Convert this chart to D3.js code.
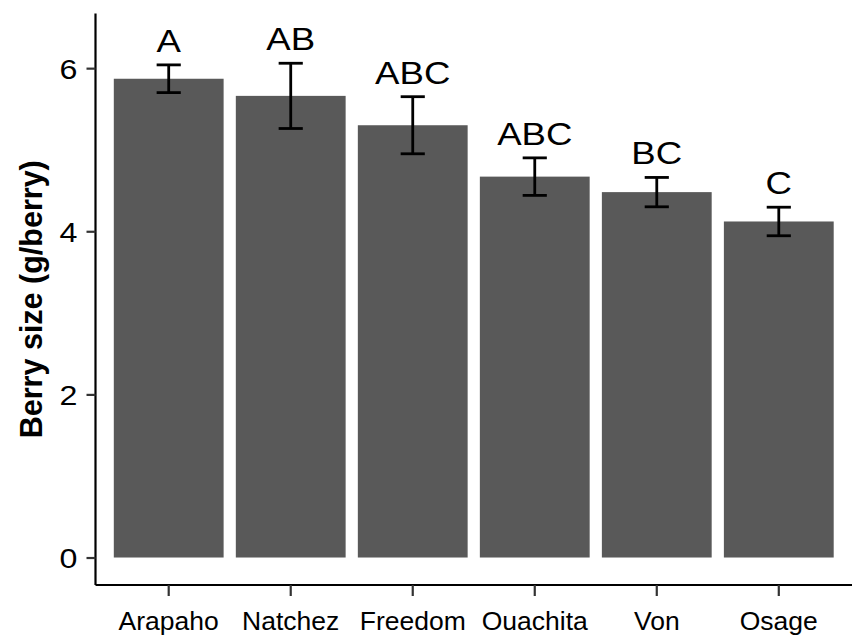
<!DOCTYPE html>
<html>
<head>
<meta charset="utf-8">
<script src="https://cdn.jsdelivr.net/npm/d3@7"></script>
<style>
  body { margin: 0; background: #fff; }
  text { font-family: "Liberation Sans", Arial, sans-serif; }
</style>
</head>
<body>
<div id="chart"></div>
<script>
// cultivar means with standard errors and Tukey letters
const cultivars = ["Arapaho", "Natchez", "Freedom", "Ouachita", "Von", "Osage"];
const berrySize = [5.87, 5.66, 5.30, 4.67, 4.48, 4.12];
const stdErr = [0.17, 0.40, 0.35, 0.23, 0.18, 0.175];
const letters = ["A", "AB", "ABC", "ABC", "BC", "C"];
const yTicks = [0, 2, 4, 6];

const width = 854, height = 636;
const svg = d3.select("#chart").append("svg")
  .attr("width", width)
  .attr("height", height);

// panel edges
const panel = { left: 95.5, right: 852, top: 13.5, bottom: 585 };

const x = d3.scaleBand()
  .domain(cultivars)
  .range([panel.left, panel.right])
  .paddingInner(0.1)
  .paddingOuter(0.15);

const y = d3.scaleLinear()
  .domain([-0.337, 6.67])
  .range([panel.bottom, panel.top]);

const data = cultivars.map((c, i) => ({
  name: c, mean: berrySize[i], se: stdErr[i], letter: letters[i]
}));

// bars
svg.append("g").selectAll("rect")
  .data(data)
  .enter().append("rect")
  .attr("x", d => x(d.name))
  .attr("width", x.bandwidth())
  .attr("y", d => y(d.mean))
  .attr("height", d => y(0) - y(d.mean))
  .attr("fill", "#595959");

// error bars
const capHalf = x.bandwidth() * 0.11;
const eb = svg.append("g")
  .attr("stroke", "#000")
  .attr("stroke-width", 2.8)
  .attr("fill", "none");
data.forEach(d => {
  const cx = x(d.name) + x.bandwidth() / 2;
  const hi = y(d.mean + d.se), lo = y(d.mean - d.se);
  eb.append("line").attr("x1", cx).attr("x2", cx).attr("y1", hi).attr("y2", lo);
  eb.append("line").attr("x1", cx - capHalf).attr("x2", cx + capHalf).attr("y1", hi).attr("y2", hi);
  eb.append("line").attr("x1", cx - capHalf).attr("x2", cx + capHalf).attr("y1", lo).attr("y2", lo);
});

// significance letters (the source glyphs are a bit wide, so stretch them)
svg.append("g").selectAll("text")
  .data(data)
  .enter().append("text")
  .attr("transform", d => `translate(${x(d.name) + x.bandwidth() / 2},${y(d.mean + d.se) - 13}) scale(1.2,1)`)
  .attr("text-anchor", "middle")
  .attr("font-size", 30.5)
  .attr("fill", "#000")
  .text(d => d.letter);

// y axis
const yAxis = svg.append("g")
  .attr("transform", `translate(${panel.left},0)`)
  .call(d3.axisLeft(y).tickValues(yTicks).tickSize(9).tickPadding(8).tickFormat(d3.format("d")));
yAxis.select(".domain").attr("d", `M0,${panel.top}V${panel.bottom}`).attr("stroke", "#000").attr("stroke-width", 2.2);
yAxis.selectAll(".tick line").attr("stroke", "#333").attr("stroke-width", 2.2);
yAxis.selectAll(".tick text")
  .attr("font-size", 28).attr("fill", "#000").attr("dy", "0.36em")
  .attr("x", -18 / 1.15)
  .attr("transform", "scale(1.15,1)");

// x axis
const xAxis = svg.append("g")
  .attr("transform", `translate(0,${panel.bottom})`)
  .call(d3.axisBottom(x).tickSize(11).tickPadding(15));
xAxis.select(".domain").attr("d", `M${panel.left},0H${panel.right}`).attr("stroke", "#000").attr("stroke-width", 2.2);
xAxis.selectAll(".tick line").attr("stroke", "#333").attr("stroke-width", 2.2);
xAxis.selectAll(".tick text").attr("font-size", 26.5).attr("fill", "#000");

// y title
svg.append("text")
  .attr("transform", `translate(42,${(panel.top + panel.bottom) / 2}) rotate(-90)`)
  .attr("text-anchor", "middle")
  .attr("font-size", 30.5)
  .attr("font-weight", "bold")
  .attr("fill", "#000")
  .text("Berry size (g/berry)");
</script>
</body>
</html>
